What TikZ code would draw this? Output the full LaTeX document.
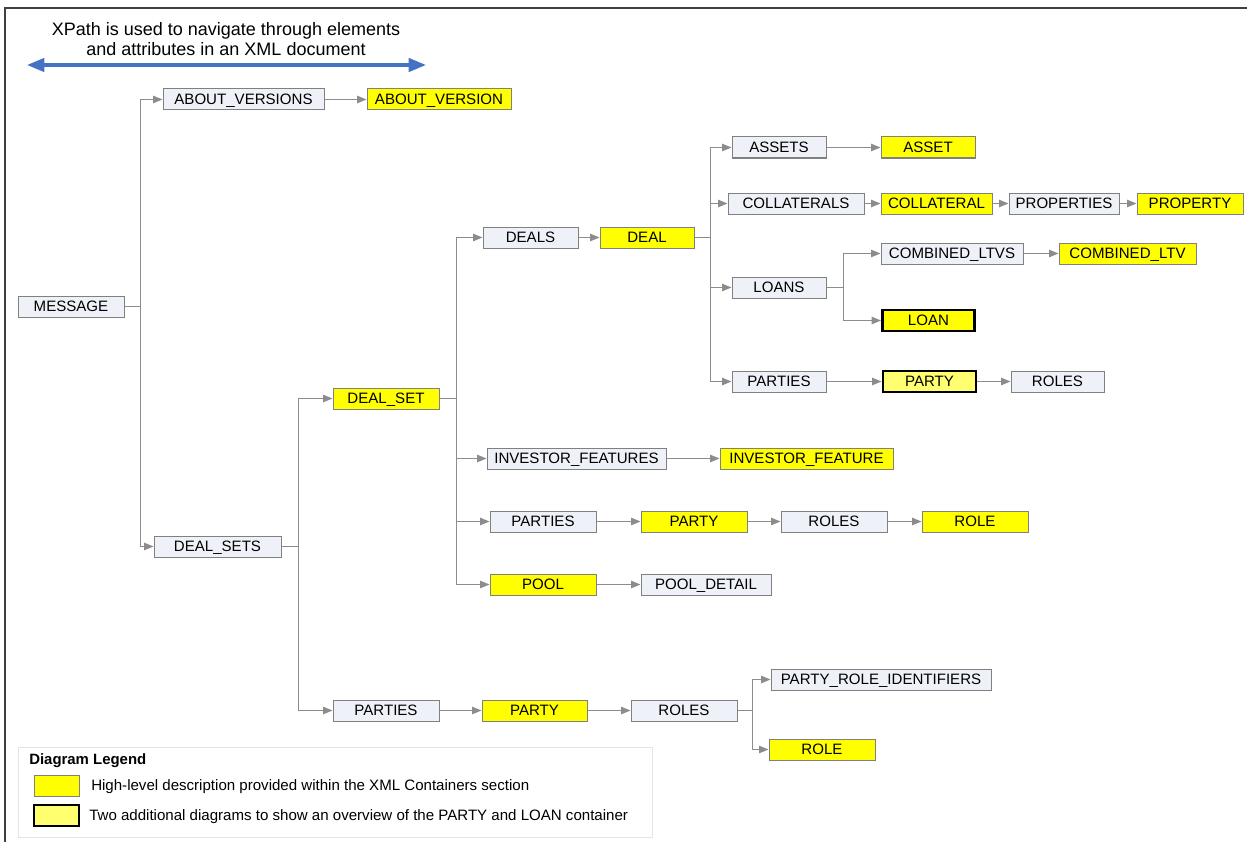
\documentclass[tikz,border=0pt]{standalone}
\usepackage{fontspec}
\setmainfont{Liberation Sans}
\usetikzlibrary{arrows.meta}
\definecolor{boxfill}{HTML}{EEF2F8}
\definecolor{boxline}{HTML}{808080}
\definecolor{hiyel}{HTML}{FFFF00}
\definecolor{ltyel}{HTML}{FFFF70}
\definecolor{conncol}{HTML}{8C8C8C}
\definecolor{arrblue}{HTML}{4472C4}
\definecolor{legline}{HTML}{E4E4E4}
\tikzset{
  box/.style={draw=boxline, line width=0.75pt, fill=boxfill, inner sep=0pt, minimum height=15.75pt, text height=8.1pt, text depth=0pt, font=\fontsize{11.3}{13}\selectfont},
  yel/.style={box, fill=hiyel},
  thick yel/.style={box, draw=black, line width=2.2pt, fill=#1},
  wd/.style={minimum width=#1*0.75pt},
  conn/.style={draw=conncol, line width=0.9pt, -{Triangle[length=7pt,width=5.5pt]}},
  trunk/.style={draw=conncol, line width=0.9pt},
  legtext/.style={anchor=west, font=\fontsize{11.3}{13}\selectfont, inner sep=0pt, text height=8pt, text depth=0pt},
}
\begin{document}
\begin{tikzpicture}[x=0.75pt,y=-0.75pt]
\useasboundingbox (0,0) rectangle (1247,842);
% frame
\draw[line width=1.2pt, draw=black!75] (5,842) -- (5,8) -- (1247,8);
% title
\node[font=\fontsize{13.5}{15.2}\selectfont, align=center] (title) at (226,39) {XPath is used to navigate through elements\\and attributes in an XML document};
\coordinate (al) at (27,65);
\coordinate (ar) at (426,65);
\draw[arrblue, line width=2.5pt, {Triangle[length=13pt,width=10pt]}-{Triangle[length=13pt,width=10pt]}] (al) -- (ar);

% nodes
\node[box, wd=106] (msg) at (71,306.5) {MESSAGE};
\node[box, wd=161] (avs) at (243.5,99.5) {ABOUT\_VERSIONS};
\node[yel, wd=144] (av) at (439,99.5) {ABOUT\_VERSION};
\node[box, wd=127] (dss) at (217.5,546.5) {DEAL\_SETS};
\node[yel, wd=106] (ds) at (386,398.5) {DEAL\_SET};
\node[box, wd=106] (pb) at (386,710.5) {PARTIES};
\node[yel, wd=105] (pyb) at (534.5,710.5) {PARTY};
\node[box, wd=106] (rb) at (684,710.5) {ROLES};
\node[box, wd=220] (pri) at (881,679.5) {PARTY\_ROLE\_IDENTIFIERS};
\node[yel, wd=106] (rlb) at (822,749.5) {ROLE};
\node[box, wd=95] (deals) at (530.5,237.5) {DEALS};
\node[yel, wd=94] (deal) at (647,237.5) {DEAL};
\node[box, wd=179] (ifs) at (576.5,458.5) {INVESTOR\_FEATURES};
\node[yel, wd=173] (if) at (806.5,458.5) {INVESTOR\_FEATURE};
\node[box, wd=106] (pm) at (543,521.5) {PARTIES};
\node[yel, wd=106] (pym) at (694,521.5) {PARTY};
\node[box, wd=106] (rm) at (834,521.5) {ROLES};
\node[yel, wd=106] (rlm) at (975,521.5) {ROLE};
\node[yel, wd=106] (pool) at (543,584.5) {POOL};
\node[box, wd=130] (pd) at (706,584.5) {POOL\_DETAIL};
\node[box, wd=94] (assets) at (779,147.5) {ASSETS};
\node[yel, wd=94] (asset) at (928,147.5) {ASSET};
\node[box, wd=136] (cols) at (796,203.5) {COLLATERALS};
\node[yel, wd=111] (col) at (936.5,203.5) {COLLATERAL};
\node[box, wd=110] (props) at (1064,203.5) {PROPERTIES};
\node[yel, wd=106] (prop) at (1190,203.5) {PROPERTY};
\node[box, wd=94] (loans) at (779,287.5) {LOANS};
\node[box, wd=142] (cltvs) at (952,253.5) {COMBINED\_LTVS};
\node[yel, wd=137] (cltv) at (1127.5,253.5) {COMBINED\_LTV};
\node[thick yel=hiyel, wd=92] (loan) at (928.5,320.5) {LOAN};
\node[box, wd=94] (pt) at (779,381.5) {PARTIES};
\node[thick yel=ltyel, wd=93] (pyt) at (929.5,381.5) {PARTY};
\node[box, wd=93] (rt) at (1057.5,381.5) {ROLES};

% connectors
\draw[trunk] (msg.east) -- ++(16,0) coordinate (t1);
\draw[conn] (t1) |- (avs.west);
\draw[conn] (t1) |- (dss.west);
\draw[conn] (avs) -- (av);

\draw[trunk] (dss.east) -- ++(17,0) coordinate (t2);
\draw[conn] (t2) |- (ds.west);
\draw[conn] (t2) |- (pb.west);
\draw[conn] (pb) -- (pyb);
\draw[conn] (pyb) -- (rb);
\draw[trunk] (rb.east) -- ++(15,0) coordinate (t3);
\draw[conn] (t3) |- (pri.west);
\draw[conn] (t3) |- (rlb.west);

\draw[trunk] (ds.east) -- ++(17,0) coordinate (t4);
\draw[conn] (t4) |- (deals.west);
\draw[conn] (t4) |- (ifs.west);
\draw[conn] (t4) |- (pm.west);
\draw[conn] (t4) |- (pool.west);
\draw[conn] (deals) -- (deal);
\draw[conn] (ifs) -- (if);
\draw[conn] (pm) -- (pym);
\draw[conn] (pym) -- (rm);
\draw[conn] (rm) -- (rlm);
\draw[conn] (pool) -- (pd);

\draw[trunk] (deal.east) -- ++(16,0) coordinate (t5);
\draw[conn] (t5) |- (assets.west);
\draw[conn] (t5) |- (cols.west);
\draw[conn] (t5) |- (loans.west);
\draw[conn] (t5) |- (pt.west);
\draw[conn] (assets) -- (asset);
\draw[conn] (cols) -- (col);
\draw[conn] (col) -- (props);
\draw[conn] (props) -- (prop);
\draw[conn] (pt) -- (pyt);
\draw[conn] (pyt) -- (rt);

\draw[trunk] (loans.east) -- ++(17,0) coordinate (t6);
\draw[conn] (t6) |- (cltvs.west);
\draw[conn] (t6) |- (loan.west);
\draw[conn] (cltvs) -- (cltv);

% legend
\node[draw=legline, line width=0.75pt, minimum width=634*0.75pt, minimum height=90*0.75pt, inner sep=0pt] (leg) at (335,792) {};
\node[anchor=west, inner sep=0pt, font=\fontsize{11.2}{13}\selectfont\bfseries] (legt) at (29,761) {Diagram Legend};
\node[draw=boxline, line width=0.75pt, fill=hiyel, minimum width=45*0.75pt, minimum height=21*0.75pt, inner sep=0pt] (sw1) at (56.5,785.5) {};
\node[legtext] (lt1) at (91,785.5) {High-level description provided within the XML Containers section};
\node[draw=black, line width=2.2pt, fill=ltyel, minimum width=45*0.75pt, minimum height=21*0.75pt, inner sep=0pt] (sw2) at (56.5,815.5) {};
\node[legtext] (lt2) at (89,815.5) {Two additional diagrams to show an overview of the PARTY and LOAN container};
\end{tikzpicture}
\end{document}
